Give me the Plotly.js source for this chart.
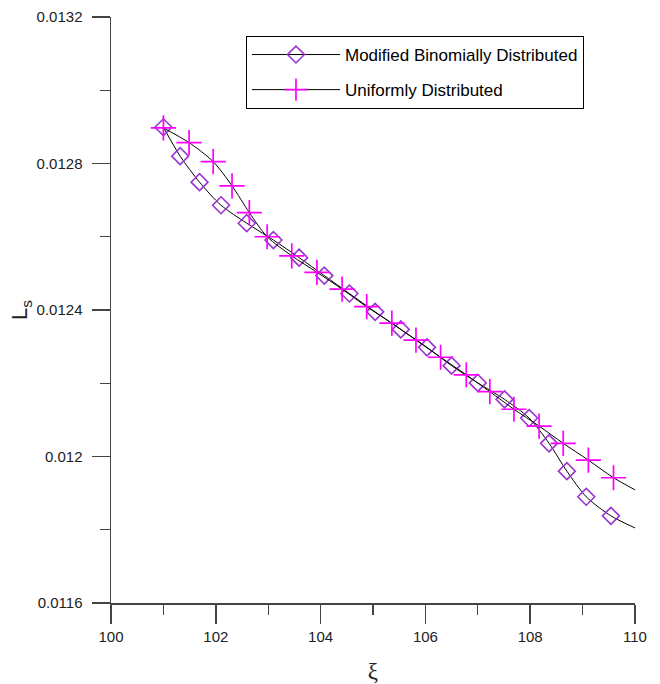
<!DOCTYPE html>
<html>
<head>
<meta charset="utf-8">
<script src="https://cdn.plot.ly/plotly-3.0.1.min.js"></script>
<style>html,body{margin:0;padding:0;background:#fff;}#chart{width:660px;height:684px;}</style>
</head>
<body>
<div id="chart"></div>
<script>
// Modified Binomially Distributed (diamonds) – marker positions along the curve
const binomX = [101.0, 101.32, 101.69, 102.1, 102.59, 103.1, 103.59, 104.07, 104.55, 105.04, 105.53, 106.03, 106.5, 107.0, 107.51, 107.98, 108.36, 108.7, 109.07, 109.54];
const binomY = [0.012899, 0.012820, 0.012749, 0.012686, 0.012637, 0.012591, 0.012543, 0.012494, 0.012445, 0.012395, 0.012347, 0.012298, 0.012248, 0.012201, 0.012156, 0.012105, 0.012036, 0.011960, 0.011890, 0.011838];
const binomEndX = 110.0;
const binomEndY = 0.011805;

// Uniformly Distributed (crosses)
const uniX = [101.0, 101.49, 101.95, 102.31, 102.64, 102.98, 103.45, 103.93, 104.41, 104.88, 105.36, 105.82, 106.29, 106.78, 107.23, 107.69, 108.17, 108.63, 109.11, 109.59];
const uniY = [0.012897, 0.012857, 0.012805, 0.012739, 0.012666, 0.012600, 0.012548, 0.012503, 0.012457, 0.012409, 0.012364, 0.012318, 0.012271, 0.012223, 0.012177, 0.012129, 0.012083, 0.012036, 0.011990, 0.011942];
const uniEndX = 110.0;
const uniEndY = 0.011909;

const seriesNames = ['Modified Binomially Distributed', 'Uniformly Distributed'];
const xTicks = [100, 102, 104, 106, 108, 110];
const yTicks = [0.0116, 0.012, 0.0124, 0.0128, 0.0132];

const diamondColor = '#9a35d0';
const crossColor = '#ff00ff';

function colorsWithHiddenEnd(n, c) {
  const arr = [];
  for (let i = 0; i < n; i++) arr.push(c);
  arr.push('rgba(0,0,0,0)');
  return arr;
}

const traces = [
  {
    x: binomX.concat([binomEndX]),
    y: binomY.concat([binomEndY]),
    name: seriesNames[0],
    legendgroup: 'a',
    mode: 'lines+markers',
    line: {color: '#000', width: 1, shape: 'spline', smoothing: 0.8},
    marker: {symbol: 'diamond-open', size: 13, color: colorsWithHiddenEnd(binomX.length, diamondColor), line: {width: 1.6}}
  },
  {
    x: uniX.concat([uniEndX]),
    y: uniY.concat([uniEndY]),
    name: seriesNames[1],
    legendgroup: 'b',
    mode: 'lines+markers',
    line: {color: '#000', width: 1, shape: 'spline', smoothing: 0.8},
    marker: {symbol: 'cross-thin-open', size: 18, color: colorsWithHiddenEnd(uniX.length, crossColor), line: {width: 1.7, color: colorsWithHiddenEnd(uniX.length, crossColor)}}
  }
];

const layout = {
  width: 660, height: 684,
  margin: {l: 111, r: 25, t: 17, b: 81},
  paper_bgcolor: '#fff', plot_bgcolor: '#fff',
  font: {family: 'Arial, "Liberation Sans", sans-serif', color: '#222', size: 14},
  showlegend: true,
  legend: {
    x: 0.2576, y: 0.9676, xanchor: 'left', yanchor: 'top',
    bordercolor: '#000', borderwidth: 1, bgcolor: '#fff',
    font: {size: 17, color: '#000'},
    itemwidth: 88, tracegroupgap: 10, traceorder: 'grouped'
  },
  xaxis: {
    range: [100, 110], showgrid: false, zeroline: false,
    showline: true, linecolor: '#444', linewidth: 1.5,
    ticks: 'outside', ticklen: 19, tickwidth: 1.5, tickcolor: '#444',
    tickvals: xTicks, ticktext: xTicks.map(String),
    minor: {ticks: 'outside', ticklen: 10, tickwidth: 1.2, tickcolor: '#444', dtick: 1, tick0: 100},
    tickfont: {size: 15},
    title: {text: 'ξ', font: {size: 23, family: '"Liberation Serif", "DejaVu Serif", serif'}}
  },
  yaxis: {
    range: [0.0116, 0.0132], showgrid: false, zeroline: false,
    showline: true, linecolor: '#444', linewidth: 1.5,
    ticks: 'outside', ticklen: 18, tickwidth: 1.5, tickcolor: '#444',
    ticklabelstandoff: 6,
    tickvals: yTicks, ticktext: yTicks.map(String),
    minor: {ticks: 'outside', ticklen: 10, tickwidth: 1.2, tickcolor: '#444', dtick: 0.0002, tick0: 0.0116},
    tickfont: {size: 15},
    title: {text: 'L<sub>s</sub>', font: {size: 22}}
  }
};

Plotly.newPlot('chart', traces, layout, {displayModeBar: false, staticPlot: true});
</script>
</body>
</html>
